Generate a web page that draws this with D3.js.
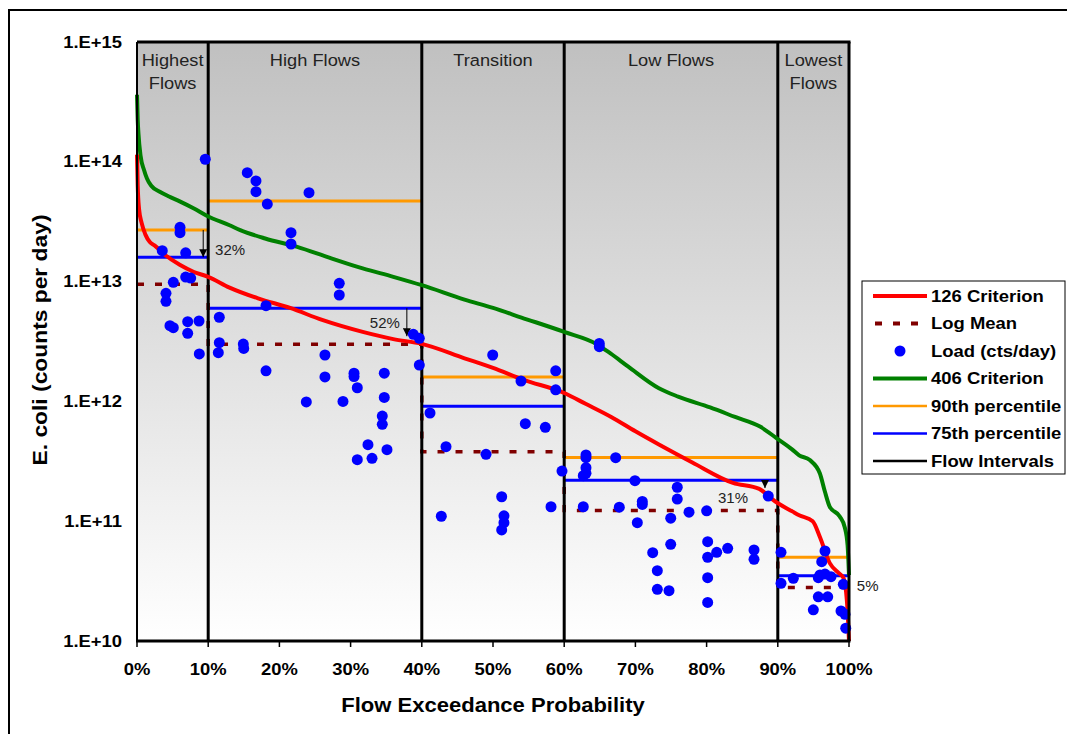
<!DOCTYPE html>
<html><head><meta charset="utf-8">
<script src="https://cdn.jsdelivr.net/npm/d3@7"></script>
<style>
body{margin:0;background:#fff;}
text{font-family:Arial,"Liberation Sans",sans-serif;}
</style>
</head><body>
<svg id="c" width="1067" height="734"></svg>
<script>
// ---------- DATA ----------
const xTicks = [0,10,20,30,40,50,60,70,80,90,100];
const xTickLabels = ["0%","10%","20%","30%","40%","50%","60%","70%","80%","90%","100%"];
const yTicks = [1e10,1e11,1e12,1e13,1e14,1e15];
const yTickLabels = ["1.E+10","1.E+11","1.E+12","1.E+13","1.E+14","1.E+15"];

const zoneBreaks = [0,10,40,60,90,100];
const zoneNames = [["Highest","Flows"],["High Flows"],["Transition"],["Low Flows"],["Lowest","Flows"]];
const p90 = [2.7e13, 4.7e13, 1.6e12, 3.4e11, 5.0e10];
const p75 = [1.6e13, 6.0e12, 9.1e11, 2.2e11, 3.5e10];
const logMean = [9.5e12, 3.0e12, 3.8e11, 1.23e11, 2.8e10];

// 126 criterion curve (pct, log10 value)
const crit126Pct = [0,0.1,0.3,0.65,1.2,1.8,2.5,4,6,8,10,13,17,21.5,26,31.7,36,40,46,50,54.3,60,63,66.6,70,73.3,78,83.7,87.4,88.7,89.3,92.1,93,94.9,95.9,97.3,98.5,99.2,99.7,100];
const crit126Log = [14.06,13.8,13.6,13.49,13.39,13.33,13.3,13.22,13.14,13.08,13.04,12.95,12.86,12.78,12.68,12.58,12.52,12.48,12.36,12.28,12.18,12.07,11.98,11.87,11.75,11.64,11.49,11.32,11.27,11.21,11.18,11.08,11.05,11.0,10.87,10.65,10.57,10.53,10.34,10.0];
// 406 criterion curve
const crit406Pct = [0,0.1,0.2,0.5,1,1.4,2,3.2,4.5,6,8,9.8,13,14.5,18,22.5,27,31.7,36,40,46,50,54,60,64.5,66.5,69,73.3,76,80.5,84,87.5,89.9,92,93,94.5,95.9,96.6,97.3,98.7,99.4,99.8,100];
const crit406Log = [14.56,14.35,14.24,14.05,13.93,13.86,13.8,13.75,13.71,13.67,13.61,13.55,13.47,13.43,13.36,13.29,13.2,13.11,13.04,12.97,12.85,12.78,12.70,12.58,12.48,12.40,12.29,12.11,12.04,11.95,11.87,11.79,11.69,11.60,11.55,11.51,11.40,11.25,11.12,11.04,10.95,10.8,10.55];

// observed loads (cts/day)
const loadPct = [
 9.59,6.04,6.04,3.55,6.84,5.10,6.84,7.54,4.07,4.07,4.63,5.10,7.12,8.71,7.12,8.75,
 15.49,16.71,16.71,18.30,24.16,21.63,21.63,28.41,28.41,18.12,11.56,11.56,11.42,14.93,14.99,18.12,26.40,26.40,30.48,30.48,34.73,38.81,39.65,39.65,30.94,23.78,28.93,34.73,34.45,34.45,32.44,35.11,30.94,33.01,
 41.15,43.40,49.96,49.02,53.93,54.54,57.35,58.81,58.81,59.69,42.74,51.22,51.54,51.54,51.22,58.15,
 64.93,64.93,63.06,63.06,63.06,62.68,63.06,67.23,69.94,62.68,67.74,70.97,70.97,70.27,75.88,75.88,74.96,77.53,80.01,74.96,72.43,73.08,73.08,74.72,80.15,80.15,81.42,82.96,80.15,80.15,86.66,86.66,88.66,
 90.45,90.45,92.18,96.63,96.17,95.93,96.63,97.47,95.69,99.20,95.69,97.01,94.99,98.88,99.44,99.54];
const loadVal = [
 1.05e14,2.84e13,2.56e13,1.81e13,1.74e13,9.86e12,1.09e13,1.07e13,7.98e12,6.85e12,4.29e12,4.12e12,4.63e12,4.69e12,3.70e12,2.49e12,
 8.11e13,6.92e13,5.63e13,4.44e13,5.52e13,2.56e13,2.06e13,9.68e12,7.73e12,6.29e12,5.04e12,3.09e12,2.55e12,3.01e12,2.77e12,1.80e12,2.44e12,1.60e12,1.72e12,1.61e12,1.72e12,3.63e12,3.36e12,2.01e12,1.30e12,9.89e11,1.00e12,1.08e12,7.55e11,6.44e11,4.35e11,3.95e11,3.26e11,3.35e11,
 8.00e11,4.19e11,2.44e12,3.62e11,1.48e12,6.52e11,6.08e11,1.80e12,1.25e12,2.62e11,1.10e11,1.60e11,1.11e11,9.72e10,8.45e10,1.32e11,
 3.05e12,2.86e12,3.57e11,3.39e11,2.80e11,2.40e11,2.51e11,3.39e11,2.18e11,1.32e11,1.31e11,1.46e11,1.38e11,9.71e10,1.92e11,1.53e11,1.06e11,1.19e11,1.22e11,6.41e10,5.46e10,3.86e10,2.70e10,2.63e10,6.75e10,5.00e10,5.50e10,5.94e10,3.38e10,2.10e10,5.75e10,4.81e10,1.62e11,
 5.50e10,3.03e10,3.34e10,5.64e10,4.59e10,3.56e10,3.62e10,3.44e10,3.38e10,2.97e10,2.34e10,2.34e10,1.82e10,1.78e10,1.67e10,1.28e10];

// reduction annotations
const redLabels = ["32%","52%","31%","5%"];
const redLabelPct = [10.96, 32.7, 81.6, 101.1];
const redLabelVal = [1.86e13, 4.6e12, 1.59e11, 2.88e10];
const arrowPct = [9.3, 37.9, 88.2];
const arrowFrom = [2.7e13, 6.0e12, 2.2e11];
const arrowTo = [1.6e13, 3.5e12, 1.89e11];

const legendItems = ["126 Criterion","Log Mean","Load (cts/day)","406 Criterion","90th percentile","75th percentile","Flow Intervals"];

// ---------- DRAW ----------
const svg = d3.select("#c");
const L = 137, R = 849, T = 42, B = 641;
const x = d3.scaleLinear().domain([0,100]).range([L,R]);
const y = d3.scaleLog().domain([1e10,1e15]).range([B,T]);

function txt(parent, px, py, s, o) {
  o = o || {};
  return parent.append("text")
    .attr("transform", `translate(${px},${py}) rotate(${o.rotate||0}) scale(${o.sx||1},1)`)
    .attr("text-anchor", o.anchor || "middle")
    .attr("dominant-baseline", "central")
    .attr("font-size", o.size || 16)
    .attr("font-weight", o.weight || "normal")
    .attr("fill", o.fill || "#000")
    .text(s);
}

// outer frame
svg.append("rect").attr("x",9).attr("y",10).attr("width",1100).attr("height",800)
  .attr("fill","none").attr("stroke","#000").attr("stroke-width",2);

// gradient background
const defs = svg.append("defs");
const grad = defs.append("linearGradient").attr("id","bg").attr("x1",0).attr("y1",0).attr("x2",0).attr("y2",1);
grad.append("stop").attr("offset","0%").attr("stop-color","#c0c0c0");
grad.append("stop").attr("offset","100%").attr("stop-color","#ffffff");
svg.append("rect").attr("x",L).attr("y",T).attr("width",R-L).attr("height",B-T).attr("fill","url(#bg)");
defs.append("clipPath").attr("id","clip").append("rect").attr("x",L-2).attr("y",T).attr("width",R-L+4).attr("height",B-T+1);

const plot = svg.append("g");

// percentile segments
const zones = d3.range(zoneNames.length).map(i => ({a: zoneBreaks[i], b: zoneBreaks[i+1], p90: p90[i], p75: p75[i], lm: logMean[i]}));
plot.selectAll(".p90").data(zones).join("line")
  .attr("x1", d => x(d.a)).attr("x2", d => x(d.b)).attr("y1", d => y(d.p90)).attr("y2", d => y(d.p90))
  .attr("stroke","#ff9900").attr("stroke-width",3);
plot.selectAll(".p75").data(zones).join("line")
  .attr("x1", d => x(d.a)).attr("x2", d => x(d.b)).attr("y1", d => y(d.p75)).attr("y2", d => y(d.p75))
  .attr("stroke","#0000ff").attr("stroke-width",3);

// log mean step line
const lmPts = [];
zones.forEach(d => { lmPts.push([d.a, d.lm]); lmPts.push([d.b, d.lm]); });
plot.append("path")
  .attr("d", d3.line().x(d => x(d[0])).y(d => y(d[1]))(lmPts))
  .attr("fill","none").attr("stroke","#800000").attr("stroke-width",3.5).attr("stroke-dasharray","7,11");

// flow interval lines
plot.selectAll(".fi").data(zoneBreaks.slice(1,-1)).join("line")
  .attr("x1", d => x(d)).attr("x2", d => x(d)).attr("y1", T).attr("y2", B)
  .attr("stroke","#000").attr("stroke-width",3);

// criterion curves
const curveLine = d3.line().curve(d3.curveMonotoneX).x(d => x(d[0])).y(d => y(Math.pow(10, d[1])));
plot.append("path").attr("clip-path","url(#clip)")
  .attr("d", curveLine(crit406Pct.map((p,i) => [p, crit406Log[i]])))
  .attr("fill","none").attr("stroke","#008000").attr("stroke-width",4).attr("stroke-linejoin","round");
plot.append("path").attr("clip-path","url(#clip)")
  .attr("d", curveLine(crit126Pct.map((p,i) => [p, crit126Log[i]])))
  .attr("fill","none").attr("stroke","#ff0000").attr("stroke-width",4).attr("stroke-linejoin","round");

// arrows
defs.append("marker").attr("id","ah").attr("viewBox","0 0 10 10").attr("refX",10).attr("refY",5)
  .attr("markerWidth",8).attr("markerHeight",8).attr("markerUnits","userSpaceOnUse").attr("orient","auto")
  .append("path").attr("d","M0,0L10,5L0,10Z").attr("fill","#000");
plot.selectAll(".arr").data(arrowPct).join("line")
  .attr("x1", d => x(d)).attr("x2", d => x(d))
  .attr("y1", (d,i) => y(arrowFrom[i])).attr("y2", (d,i) => y(arrowTo[i]))
  .attr("stroke","#000").attr("stroke-width",1).attr("marker-end","url(#ah)");

// load points
plot.selectAll(".pt").data(loadPct).join("circle")
  .attr("cx", d => x(d)).attr("cy", (d,i) => y(loadVal[i])).attr("r",5.5).attr("fill","#0000ff");

// reduction labels
redLabels.forEach((s,i) => txt(svg, x(redLabelPct[i]), y(redLabelVal[i]), s, {anchor:"start", size:15, fill:"#222"}));

// plot border
svg.append("line").attr("x1",L).attr("x2",R+1.5).attr("y1",T).attr("y2",T).attr("stroke","#000").attr("stroke-width",3);
svg.append("line").attr("x1",R).attr("x2",R).attr("y1",T).attr("y2",B).attr("stroke","#000").attr("stroke-width",3);
svg.append("line").attr("x1",L).attr("x2",L).attr("y1",T).attr("y2",B).attr("stroke","#000").attr("stroke-width",2);
svg.append("line").attr("x1",L-1).attr("x2",R+1.5).attr("y1",B).attr("y2",B).attr("stroke","#000").attr("stroke-width",3);

// x ticks
svg.selectAll(".xt").data(xTicks).join("line")
  .attr("x1", d => x(d)).attr("x2", d => x(d)).attr("y1", B).attr("y2", B+6)
  .attr("stroke","#000").attr("stroke-width",1.5);
xTicks.forEach((t,i) => txt(svg, x(t), 669, xTickLabels[i], {size:16, weight:"bold", sx:1.15}));
yTicks.forEach((t,i) => txt(svg, 122, y(t), yTickLabels[i], {size:16, weight:"bold", sx:1.15, anchor:"end"}));

// axis titles
txt(svg, 493, 705, "Flow Exceedance Probability", {size:19.5, weight:"bold", sx:1.13});
txt(svg, 40, 340, "E. coli (counts per day)", {size:19.5, weight:"bold", sx:1.17, rotate:-90});

// zone names
zones.forEach((d,i) => {
  const cx = x((d.a + d.b)/2);
  zoneNames[i].forEach((s,j) => txt(svg, cx, 60 + j*23, s, {size:16.3, sx:1.12, fill:"#222"}));
});

// legend
const lg = svg.append("g");
lg.append("rect").attr("x",862).attr("y",281).attr("width",203).attr("height",193)
  .attr("fill","#fff").attr("stroke","#000").attr("stroke-width",1);
const ly = i => 296 + i*27.5;
const lx1 = 873, lx2 = 927;
lg.append("line").attr("x1",lx1).attr("x2",lx2).attr("y1",ly(0)).attr("y2",ly(0)).attr("stroke","#ff0000").attr("stroke-width",4);
lg.append("line").attr("x1",lx1+2).attr("x2",lx2).attr("y1",ly(1)).attr("y2",ly(1)).attr("stroke","#800000").attr("stroke-width",4).attr("stroke-dasharray","7,11");
lg.append("circle").attr("cx",900).attr("cy",ly(2)).attr("r",5.5).attr("fill","#0000ff");
lg.append("line").attr("x1",lx1).attr("x2",lx2).attr("y1",ly(3)).attr("y2",ly(3)).attr("stroke","#008000").attr("stroke-width",4);
lg.append("line").attr("x1",lx1).attr("x2",lx2).attr("y1",ly(4)).attr("y2",ly(4)).attr("stroke","#ff9900").attr("stroke-width",2.5);
lg.append("line").attr("x1",lx1).attr("x2",lx2).attr("y1",ly(5)).attr("y2",ly(5)).attr("stroke","#0000ff").attr("stroke-width",2.5);
lg.append("line").attr("x1",lx1).attr("x2",lx2).attr("y1",ly(6)).attr("y2",ly(6)).attr("stroke","#000").attr("stroke-width",2.5);
legendItems.forEach((s,i) => txt(lg, 931, ly(i), s, {anchor:"start", size:16.5, weight:"bold", sx:1.12}));
</script>
</body></html>
